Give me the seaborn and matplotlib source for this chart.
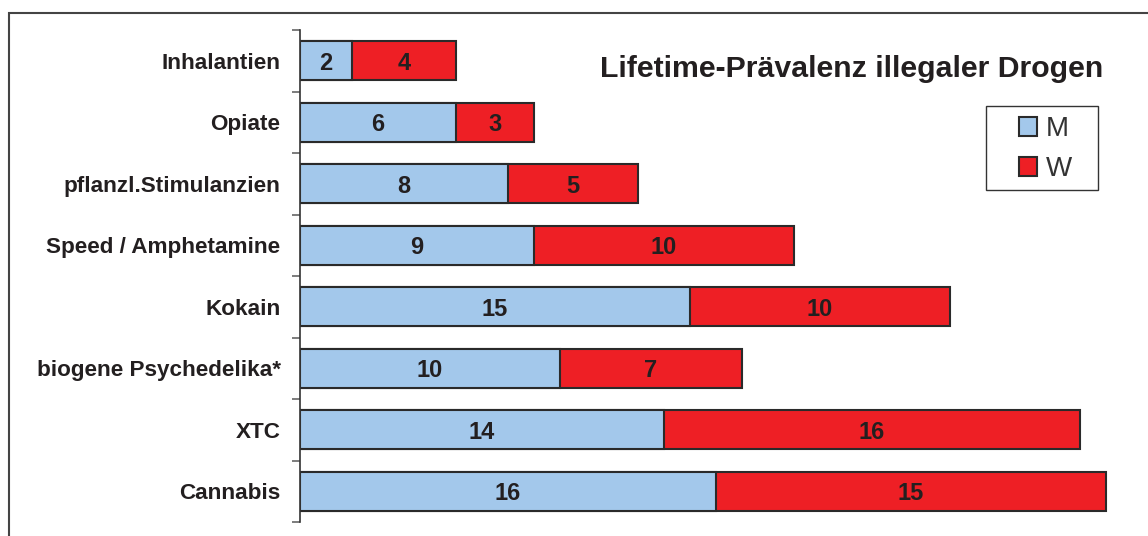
import matplotlib
matplotlib.use("Agg")
import matplotlib.pyplot as plt
import seaborn as sns
import pandas as pd
import numpy as np
from matplotlib.patches import Rectangle, Patch

categories = ["Inhalantien", "Opiate", "pflanzl.Stimulanzien", "Speed / Amphetamine",
              "Kokain", "biogene Psychedelika*", "XTC", "Cannabis"]
m_values = [2, 6, 8, 9, 15, 10, 14, 16]
w_values = [4, 3, 5, 10, 10, 7, 16, 15]
title = "Lifetime-Prävalenz illegaler Drogen"

sns.set_theme(style="white")
plt.rcParams['font.family'] = ['Liberation Sans', 'DejaVu Sans']

df = pd.DataFrame({"cat": categories, "M": m_values, "W": w_values})
df["total"] = df["M"] + df["W"]

W_, H_ = 1148, 536
fig = plt.figure(figsize=(W_ / 100, H_ / 100), dpi=100)
ax = fig.add_axes([300 / W_, (H_ - 522) / H_, (1132 - 300) / W_, 492 / H_])

blue = "#A3C8EB"
red = "#EE1F25"
edge = "#2a2a2a"
txt = "#231f20"

sns.barplot(data=df, x="total", y="cat", order=categories, color=red, orient="h",
            width=0.63, edgecolor=edge, linewidth=1.5, saturation=1, ax=ax)
sns.barplot(data=df, x="M", y="cat", order=categories, color=blue, orient="h",
            width=0.63, edgecolor=edge, linewidth=1.5, saturation=1, ax=ax)

ax.set_xlim(0, 32)
ax.set_ylim(len(categories) - 0.5, -0.5)
ax.set_xlabel("")
ax.set_ylabel("")
ax.set_xticks([])

# value labels
for i, (m, w) in enumerate(zip(m_values, w_values)):
    ax.text(m / 2, i, str(m), ha="center", va="center_baseline", fontsize=17,
            fontweight="bold", color=txt)
    ax.text(m + w / 2, i, str(w), ha="center", va="center_baseline", fontsize=17,
            fontweight="bold", color=txt)

for s in ["top", "right", "bottom"]:
    ax.spines[s].set_visible(False)
ax.spines["left"].set_color("#333333")
ax.spines["left"].set_linewidth(1.2)

ax.set_yticks(range(len(categories)))
ax.set_yticklabels(categories, fontsize=16.2, fontweight="bold", color=txt)
ax.tick_params(axis="y", which="major", left=False, length=0, pad=14)
ax.set_yticks(np.arange(-0.5, len(categories), 1.0), minor=True)
ax.tick_params(axis="y", which="minor", left=True, length=6, width=1.2,
               color="#666666", direction="out")

fig.text(852 / W_, 1 - 77 / H_, title, ha="center", va="baseline", fontsize=21.8,
         fontweight="bold", color=txt)

handles = [Patch(facecolor=blue, edgecolor=edge, linewidth=1.5, label="M"),
           Patch(facecolor=red, edgecolor=edge, linewidth=1.5, label="W")]
leg = fig.legend(handles=handles, loc="upper left",
                 bbox_to_anchor=(1019 / W_, 1 - 116 / H_), frameon=False,
                 fontsize=20, handlelength=0.66, handleheight=0.66,
                 handletextpad=0.3, borderpad=0, labelspacing=0.52,
                 borderaxespad=0)
for t in leg.get_texts():
    t.set_color("#333333")

legbox = Rectangle((986 / W_, 1 - 190 / H_), 112 / W_, 84 / H_, transform=fig.transFigure,
                   fill=False, edgecolor="#333333", linewidth=1.0)
fig.patches.append(legbox)

frame = Rectangle((9 / W_, -0.1), 1.2, 1 - 13 / H_ + 0.1, transform=fig.transFigure,
                  fill=False, edgecolor="#444444", linewidth=1.5)
fig.patches.append(frame)

fig.savefig("out.png", dpi=100)
